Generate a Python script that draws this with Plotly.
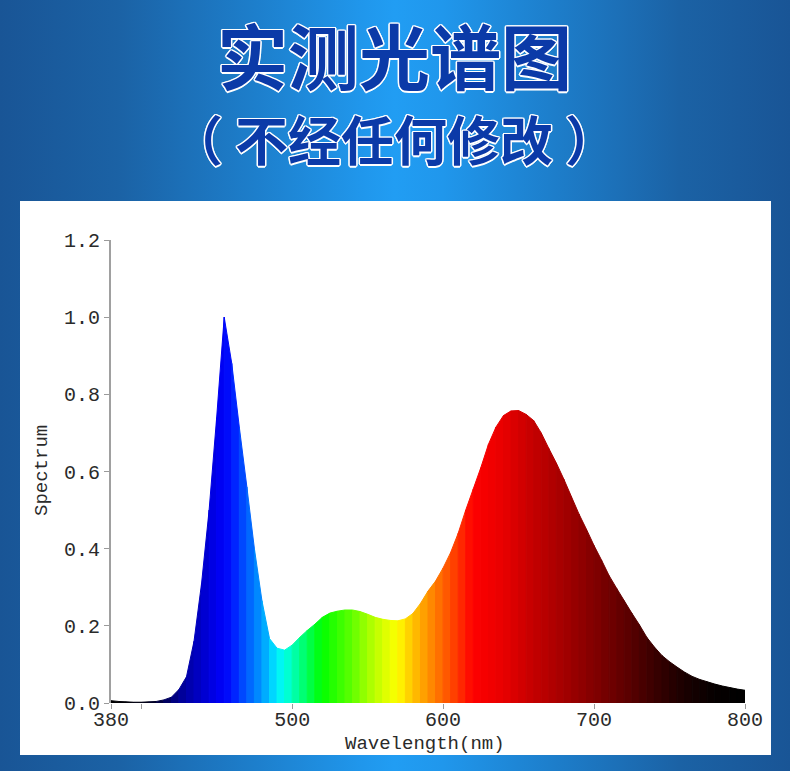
import base64
import plotly.graph_objects as go

# ---------------- data ----------------
wavelength_nm = [380, 385, 390, 395, 400, 405, 410, 415, 420, 425, 430, 435, 440, 445,
                 450, 455, 460, 465, 470, 475, 480, 485, 490, 495, 500, 505, 510, 515,
                 520, 525, 530, 535, 540, 545, 550, 555, 560, 565, 570, 575, 580, 585,
                 590, 595, 600, 605, 610, 615, 620, 625, 630, 635, 640, 645, 650, 655,
                 660, 665, 670, 675, 680, 685, 690, 695, 700, 705, 710, 715, 720, 725,
                 730, 735, 740, 745, 750, 755, 760, 765, 770, 775, 780, 785, 790, 795, 800]
spectrum = [0.006, 0.004, 0.003, 0.002, 0.002, 0.003, 0.004, 0.008, 0.015, 0.035, 0.068,
            0.16, 0.31, 0.50, 0.74, 1.00, 0.88, 0.715, 0.56, 0.40, 0.265, 0.167, 0.142,
            0.137, 0.150, 0.170, 0.188, 0.204, 0.222, 0.233, 0.238, 0.241, 0.241, 0.237,
            0.230, 0.222, 0.217, 0.214, 0.213, 0.218, 0.232, 0.258, 0.290, 0.316, 0.350,
            0.390, 0.440, 0.500, 0.555, 0.610, 0.670, 0.715, 0.745, 0.757, 0.758, 0.748,
            0.732, 0.700, 0.660, 0.622, 0.580, 0.535, 0.490, 0.450, 0.408, 0.370, 0.330,
            0.297, 0.265, 0.233, 0.203, 0.170, 0.145, 0.123, 0.107, 0.093, 0.080, 0.069,
            0.061, 0.055, 0.049, 0.044, 0.040, 0.036, 0.033]

x_tick_vals = [380, 400, 500, 600, 700, 800]
x_tick_text = ["380", "", "500", "600", "700", "800"]
y_tick_vals = [0.0, 0.2, 0.4, 0.6, 0.8, 1.0, 1.2]
y_tick_text = ["0.0", "0.2", "0.4", "0.6", "0.8", "1.0", "1.2"]

title_main = "实测光谱图"
title_sub = "（ 不经任何修改 ）"
x_title = "Wavelength(nm)"
y_title = "Spectrum"

# ---------------- style helpers ----------------
W, H = 790, 771
color_anchors = [
    (380, "#000000"), (405, "#000018"), (415, "#000050"), (425, "#000090"),
    (435, "#0000b8"), (445, "#0000da"), (452, "#0000f2"), (460, "#0010ff"),
    (465, "#0038ff"), (470, "#0058ff"), (475, "#0078ff"), (480, "#0098ff"),
    (485, "#00c0ff"), (490, "#00ecff"), (495, "#00ffe8"), (500, "#00ffbc"),
    (505, "#00ff8c"), (510, "#00ff5c"), (515, "#00ff2c"), (520, "#00ff00"),
    (530, "#30ff00"), (540, "#60ff00"), (550, "#a0ff00"), (560, "#d4ff00"),
    (570, "#ffff00"), (575, "#ffe000"), (580, "#ffc400"), (590, "#ff9400"),
    (600, "#ff6400"), (610, "#ff3400"), (620, "#ff0000"), (640, "#e80000"),
    (660, "#c40000"), (680, "#a40000"), (700, "#820000"), (720, "#600000"),
    (740, "#3a0000"), (760, "#1a0000"), (780, "#060000"), (800, "#000000"),
]


def hex_to_rgb(h):
    h = h.lstrip("#")
    return tuple(int(h[i:i + 2], 16) for i in (0, 2, 4))


def wl_color(w):
    for (w0, c0), (w1, c1) in zip(color_anchors[:-1], color_anchors[1:]):
        if w0 <= w <= w1:
            t = (w - w0) / (w1 - w0)
            a, b = hex_to_rgb(c0), hex_to_rgb(c1)
            r = [round(a[k] + (b[k] - a[k]) * t) for k in range(3)]
            return "rgb(%d,%d,%d)" % tuple(r)
    return "rgb(0,0,0)"


fig = go.Figure()

# coloured spectrum bands (one polygon between consecutive samples)
for i in range(len(wavelength_nm) - 1):
    w0, w1 = wavelength_nm[i], wavelength_nm[i + 1]
    v0, v1 = spectrum[i], spectrum[i + 1]
    col = wl_color((w0 + w1) / 2)
    fig.add_trace(go.Scatter(
        x=[w0, w0, w1, w1, w0], y=[0, v0, v1, 0, 0],
        mode="lines", fill="toself", fillcolor=col,
        line=dict(color=col, width=1),
        hoverinfo="skip", showlegend=False,
    ))

# background: blue gradient + white panel (svg image)
svg = f'''<svg xmlns="http://www.w3.org/2000/svg" width="{W}" height="{H}" viewBox="0 0 {W} {H}" preserveAspectRatio="none">
<defs>
<linearGradient id="g" x1="0" y1="0" x2="1" y2="0">
<stop offset="0" stop-color="#195596"/>
<stop offset="0.15" stop-color="#1b62a5"/>
<stop offset="0.32" stop-color="#1d7ecb"/>
<stop offset="0.46" stop-color="#2097ec"/>
<stop offset="0.5" stop-color="#219df3"/>
<stop offset="0.56" stop-color="#2097ec"/>
<stop offset="0.70" stop-color="#1d7ecb"/>
<stop offset="0.86" stop-color="#1b62a5"/>
<stop offset="1" stop-color="#195596"/>
</linearGradient>
</defs>
<rect x="0" y="0" width="{W}" height="{H}" fill="url(#g)"/>
<rect x="20" y="201" width="751" height="554" fill="#ffffff"/>
</svg>'''
svg_uri = "data:image/svg+xml;base64," + base64.b64encode(svg.encode("utf-8")).decode("ascii")

mono = "Courier New, Liberation Mono, monospace"
cjk = "Noto Sans CJK SC"
outline = ("#ffffff 1.5px 0px 0px, #ffffff -1.5px 0px 0px, #ffffff 0px 1.5px 0px, "
           "#ffffff 0px -1.5px 0px, #ffffff 1px 1px 0px, #ffffff -1px -1px 0px, "
           "#ffffff 1px -1px 0px, #ffffff -1px 1px 0px")

x0_px, x1_px = 111, 745
ytop_px, ybot_px = 240, 703

fig.update_layout(
    template="none",
    width=W, height=H, autosize=False,
    margin=dict(l=0, r=0, t=0, b=0, pad=0, autoexpand=False),
    paper_bgcolor="#1b66ad",
    plot_bgcolor="rgba(0,0,0,0)",
    showlegend=False,
    images=[dict(source=svg_uri, xref="paper", yref="paper", x=0, y=1,
                 sizex=1, sizey=1, xanchor="left", yanchor="top",
                 sizing="stretch", layer="below")],
    xaxis=dict(
        domain=[x0_px / W, x1_px / W], range=[380, 800], automargin=False,
        tickmode="array", tickvals=x_tick_vals, ticktext=x_tick_text,
        ticks="outside", ticklen=5, tickwidth=1, tickcolor="#9a9a9a",
        ticklabelstandoff=-7,
        showline=False, showgrid=False, zeroline=False,
        tickfont=dict(family=mono, size=20, color="#2a2a2a"),
    ),
    yaxis=dict(
        domain=[(H - ybot_px) / H, (H - ytop_px) / H], range=[0, 1.2], automargin=False,
        tickmode="array", tickvals=y_tick_vals, ticktext=y_tick_text,
        ticks="outside", ticklen=5, tickwidth=1, tickcolor="#9a9a9a",
        showline=True, linecolor="#a0a0a0", linewidth=2,
        showgrid=False, zeroline=False,
        tickfont=dict(family=mono, size=20, color="#2a2a2a"),
    ),
    annotations=[
        dict(text=title_main, xref="paper", yref="paper", x=394 / W, y=(H - 53) / H,
             xanchor="center", yanchor="middle", showarrow=False,
             font=dict(family=cjk, size=71, color="#0b3aa8", weight="bold", shadow=outline)),
        dict(text=title_sub, xref="paper", yref="paper", x=394 / W, y=(H - 138) / H,
             xanchor="center", yanchor="middle", showarrow=False,
             font=dict(family=cjk, size=53, color="#0b3aa8", weight="bold", shadow=outline)),
        dict(text=x_title, xref="paper", yref="paper", x=425 / W, y=(H - 744) / H,
             xanchor="center", yanchor="middle", showarrow=False,
             font=dict(family=mono, size=19, color="#2a2a2a")),
        dict(text=y_title, xref="paper", yref="paper", x=42 / W, y=(H - 471) / H,
             xanchor="center", yanchor="middle", showarrow=False, textangle=-90,
             font=dict(family=mono, size=19, color="#2a2a2a")),
    ],
)

fig.write_html("out.html",
               config={"displayModeBar": False},
               post_script="document.body.style.margin='0';document.body.style.padding='0';")
